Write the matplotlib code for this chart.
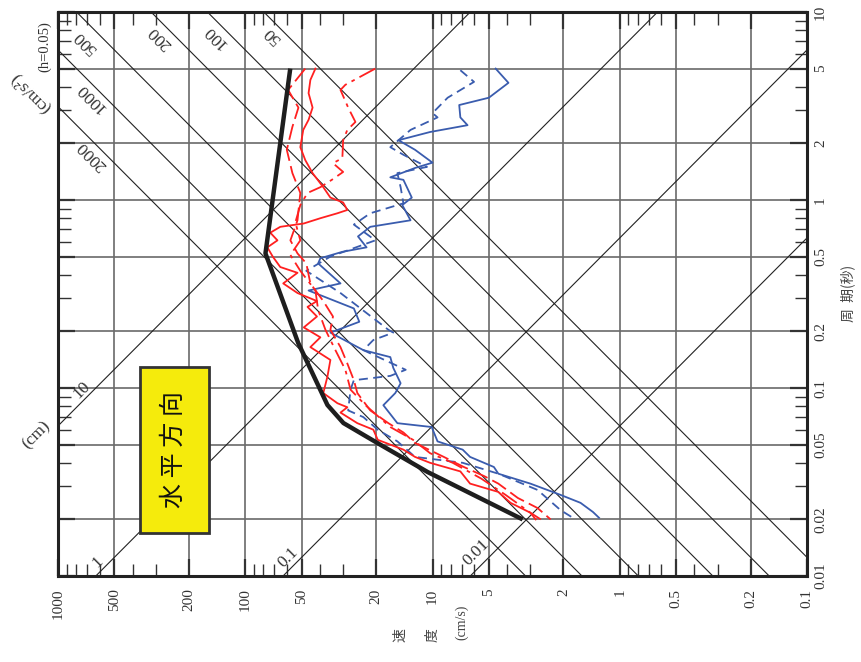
import numpy as np
import matplotlib
matplotlib.use('Agg')
import matplotlib.pyplot as plt
from matplotlib.ticker import FixedLocator, FixedFormatter, LogLocator, NullFormatter
from matplotlib.patches import Rectangle

plt.rcParams['font.family'] = ['Liberation Serif', 'Noto Sans CJK JP', 'DejaVu Sans']
CJK = ['Noto Sans CJK JP', 'DejaVu Sans']

# period (s) / pseudo velocity (cm/s)
black_T = [0.02, 0.0357, 0.051, 0.0651, 0.0812, 0.174, 0.52, 5.0]
black_V = [3.3, 10.6, 19.7, 29.9, 36.4, 52.2, 78, 57.5]

blue1_T = [5.0, 4.2, 3.5, 3.2, 2.75, 2.5, 2.3, 2.08, 1.85, 1.58, 1.48, 1.32, 1.28, 1.03, 0.94,
           0.78, 0.72, 0.64, 0.56, 0.53, 0.49, 0.46, 0.36, 0.33, 0.265, 0.225, 0.197, 0.159,
           0.146, 0.128, 0.106, 0.094, 0.081, 0.065, 0.062, 0.052, 0.047, 0.043, 0.038, 0.035,
           0.031, 0.027, 0.0245, 0.0219, 0.0204]
blue1_V = [4.6, 3.93, 5.0, 7.2, 7.1, 6.5, 10.3, 15.2, 12.4, 10.0, 12.4, 16.8, 14.3, 12.9, 14.5,
           13.1, 21.5, 25.0, 22.5, 30.3, 39.7, 40.8, 31.0, 45.9, 26.3, 24.6, 35.1, 23.4,
           16.8, 16.2, 14.8, 15.8, 18.3, 15.4, 10.1, 9.4, 6.9, 6.3, 4.7, 4.45,
           3.0, 2.07, 1.62, 1.39, 1.29]

blue2_T = [4.9, 4.25, 3.5, 2.9, 2.75, 2.36, 1.91, 1.74, 1.50, 1.39, 1.17, 0.96, 0.85, 0.74, 0.61,
           0.50, 0.42, 0.32, 0.204, 0.197, 0.18, 0.159, 0.125, 0.116, 0.11, 0.098, 0.076, 0.07,
           0.06, 0.052, 0.043, 0.040, 0.035, 0.0287, 0.0224, 0.0204]
blue2_V = [7.1, 6.0, 8.3, 10.0, 9.4, 13.1, 16.8, 14.3, 10.7, 15.4, 14.8, 14.3, 21.5, 26.3, 20.2,
           35.1, 47.2, 31.0, 17.2, 16.2, 20.7, 23.4, 13.9, 16.8, 26.3, 27.4, 28.2, 23.4,
           19.6, 15.4, 12.4, 6.9, 4.45, 2.75, 2.07, 1.78]

red1_T = [5.0, 4.35, 3.7, 3.1, 2.67, 2.36, 1.91, 1.63, 1.39, 1.17, 1.03, 0.97, 0.885, 0.85, 0.80,
          0.75, 0.72, 0.67, 0.61, 0.56, 0.50, 0.44, 0.41, 0.36, 0.32, 0.29, 0.27, 0.24, 0.21,
          0.186, 0.165, 0.141, 0.115, 0.094, 0.083, 0.079, 0.074, 0.065, 0.060, 0.053, 0.047,
          0.043, 0.040, 0.036, 0.031, 0.028, 0.0245, 0.0217, 0.020]
red1_V = [42.2, 44.9, 45.9, 43.7, 45.9, 49.0, 50.8, 47.8, 43.7, 38.3, 35.1, 30.0, 28.5, 32.2, 39.7,
          48.7, 65.0, 73.5, 67.3, 76.2, 71.3, 65.0, 52.6, 62.7, 52.6, 41.4, 46.5, 41.4, 48.7,
          39.7, 44.9, 35.1, 36.4, 38.3, 32.2, 28.5, 31.0, 25.2, 20.7, 19.6, 14.3,
          12.4, 10.3, 7.1, 6.3, 4.45, 3.83, 3.0, 2.81]

red2_T = [5.0, 3.85, 3.1, 2.45, 1.85, 1.39, 1.09, 0.78, 0.61, 0.52, 0.46, 0.36, 0.29, 0.24, 0.204,
          0.165, 0.135, 0.11, 0.094, 0.076, 0.065, 0.058, 0.051, 0.043, 0.038, 0.034, 0.031,
          0.026, 0.023, 0.020]
red2_V = [47.8, 59.0, 52.0, 56.0, 60.0, 56.0, 50.8, 52.6, 57.4, 52.6, 47.2, 44.9, 38.3, 34.0, 35.1,
          31.0, 28.5, 26.3, 25.2, 21.5, 17.2, 14.3, 12.4, 8.7, 6.8, 5.3, 4.45,
          3.5, 2.75, 2.34]

red3_T = [5.0, 4.1, 3.85, 3.1, 2.6, 2.36, 2.08, 1.67, 1.57, 1.41, 1.28, 1.17, 1.09, 0.94, 0.76,
          0.61, 0.51, 0.42, 0.33, 0.26, 0.204, 0.159, 0.125, 0.098, 0.081, 0.062, 0.053, 0.045,
          0.040, 0.033, 0.027, 0.0217, 0.020]
red3_V = [20.2, 29.2, 31.0, 28.2, 25.8, 28.5, 30.0, 30.3, 34.0, 30.0, 34.5, 39.7, 46.5, 50.8, 54.0,
          50.8, 57.4, 50.8, 42.2, 40.8, 37.3, 33.0, 29.2, 27.4, 22.8, 16.8, 12.7, 10.3,
          7.8, 5.5, 4.07, 3.0, 2.64]

disp_levels = [0.01, 0.1, 1, 10]            # cm
acc_levels = [50, 100, 200, 500, 1000, 2000]  # cm/s2

vel_ticks = [1000, 500, 200, 100, 50, 20, 10, 5, 2, 1, 0.5, 0.2, 0.1]
vel_labels = ['1000', '500', '200', '100', '50', '20', '10', '5', '2', '1', '0.5', '0.2', '0.1']
per_ticks = [10, 5, 2, 1, 0.5, 0.2, 0.1, 0.05, 0.02, 0.01]
per_labels = ['10', '5', '2', '1', '0.5', '0.2', '0.1', '0.05', '0.02', '0.01']

W, H = 861, 662
fig = plt.figure(figsize=(W / 100, H / 100), dpi=100)
ax = fig.add_axes([58 / W, 1 - 576 / H, 749 / W, 564 / H])
ax.set_xscale('log')
ax.set_yscale('log')
ax.set_xlim(1000, 0.1)
ax.set_ylim(0.01, 10)

# tripartite diagonals
T = np.logspace(-2.1, 1.1, 60)
for d in disp_levels:
    ax.plot(2 * np.pi * d / T, T, color='#222222', lw=0.8, zorder=2)
for a in acc_levels:
    ax.plot(a * T / (2 * np.pi), T, color='#222222', lw=0.8, zorder=2)

ax.xaxis.set_major_locator(FixedLocator(vel_ticks))
ax.xaxis.set_major_formatter(FixedFormatter(vel_labels))
ax.yaxis.set_major_locator(FixedLocator(per_ticks))
ax.yaxis.set_major_formatter(FixedFormatter(per_labels))
ax.xaxis.set_minor_locator(LogLocator(base=10, subs=[3, 4, 6, 7, 8, 9], numticks=20))
ax.yaxis.set_minor_locator(LogLocator(base=10, subs=[3, 4, 6, 7, 8, 9], numticks=20))
ax.xaxis.set_minor_formatter(NullFormatter())
ax.yaxis.set_minor_formatter(NullFormatter())

ax.grid(which='major', color='#6a6a6a', lw=1.2, zorder=1)
ax.tick_params(which='both', direction='in', top=True, right=True, left=True, bottom=True,
               labelleft=False, labelright=True, labelbottom=True, labeltop=False,
               colors='#333333', labelsize=11)
ax.tick_params(which='major', length=12, width=1.6)
ax.tick_params(which='minor', length=9, width=1.0)
ax.tick_params(axis='x', labelrotation=90, pad=9)
ax.tick_params(axis='y', labelrotation=90, pad=5)
for lab in ax.get_yticklabels():
    lab.set_va('center')
for s in ax.spines.values():
    s.set_linewidth(2.2)
    s.set_color('#222222')

# spectra
ax.plot(blue1_V, blue1_T, color='#3a5cae', lw=1.3, zorder=3)
ax.plot(blue2_V, blue2_T, color='#3a5cae', lw=1.3, ls=(0, (5, 3)), zorder=3)
ax.plot(red1_V, red1_T, color='#ff2020', lw=1.3, zorder=3)
ax.plot(red2_V, red2_T, color='#ff2020', lw=1.3, ls=(0, (9, 3)), zorder=3)
ax.plot(red3_V, red3_T, color='#ff2020', lw=1.3, ls=(0, (10, 3, 2, 3)), zorder=3)
ax.plot(black_V, black_T, color='#1e1e1e', lw=3.2, zorder=5, solid_capstyle='butt')

# diagonal labels
tc = '#333333'
for txt, fx, fy in [('500', 0.036, 0.947), ('200', 0.136, 0.954), ('100', 0.210, 0.956),
                    ('50', 0.286, 0.959), ('1000', 0.045, 0.849), ('2000', 0.045, 0.746)]:
    ax.text(fx, fy, txt, transform=ax.transAxes, rotation=135, ha='center', va='center',
            fontsize=12.5, color=tc, zorder=6)
for txt, fx, fy in [('10', 0.032, 0.330), ('1', 0.053, 0.025), ('0.1', 0.307, 0.032),
                    ('0.01', 0.559, 0.041)]:
    ax.text(fx, fy, txt, transform=ax.transAxes, rotation=45, ha='center', va='center',
            fontsize=12.5, color=tc, zorder=6)

# label box
ax.add_patch(Rectangle((0.1095, 0.0762), 0.0921, 0.2944, transform=ax.transAxes,
                       facecolor='#f5eb0c', edgecolor='#333333', lw=2, zorder=7))
ax.text(0.155, 0.2234, '水 平 方 向', transform=ax.transAxes, rotation=90, ha='center',
        va='center', fontsize=18, family=CJK, color='#111111', zorder=8)

# outer texts
fig.text(45 / W, 1 - 47 / H, '(h=0.05)', rotation=90, ha='center', va='center',
         fontsize=10.5, color=tc)
fig.text(30 / W, 1 - 93 / H, '(cm/s²)', rotation=135, ha='center', va='center',
         fontsize=12.5, color=tc)
fig.text(36 / W, 1 - 435 / H, '(cm)', rotation=45, ha='center', va='center',
         fontsize=12.5, color=tc)
fig.text(848 / W, 1 - 293 / H, '周  期(秒)', rotation=90, ha='center', va='center',
         fontsize=10, family=CJK, color='#444444')
fig.text(400 / W, 1 - 635 / H, '速', rotation=90, ha='center', va='center',
         fontsize=10, family=CJK, color='#444444')
fig.text(433 / W, 1 - 635 / H, '度', rotation=90, ha='center', va='center',
         fontsize=10, family=CJK, color='#444444')
fig.text(462 / W, 1 - 622 / H, '(cm/s)', rotation=90, ha='center', va='center',
         fontsize=10, color='#444444')

fig.savefig('out.png', dpi=100)
